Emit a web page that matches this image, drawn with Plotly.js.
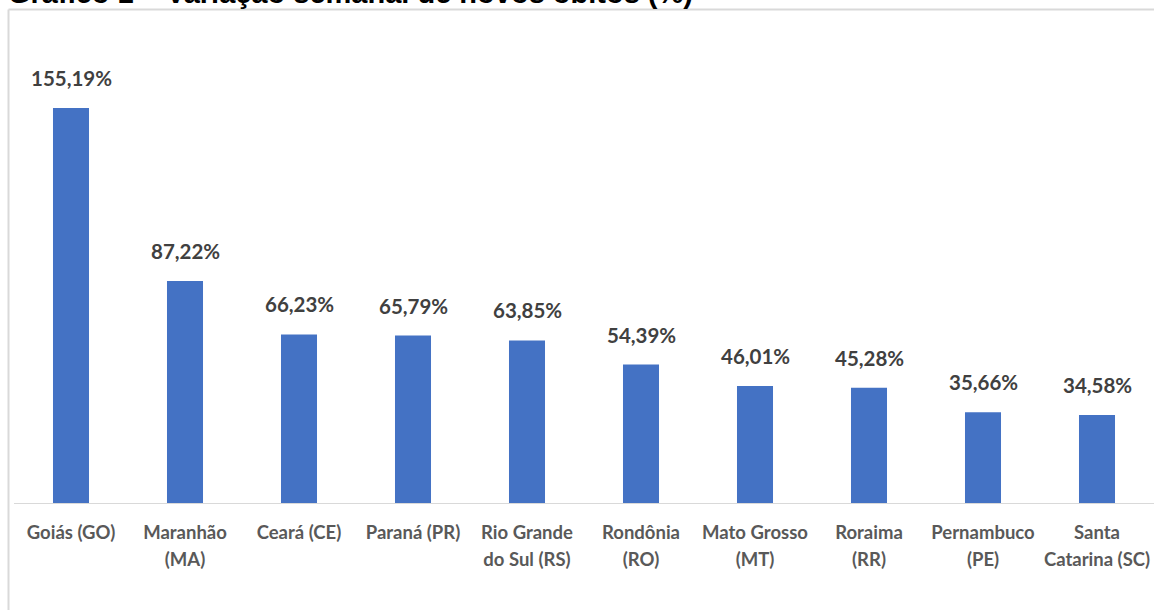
<!DOCTYPE html>
<html>
<head>
<meta charset="utf-8">
<script src="https://cdn.plot.ly/plotly-3.0.1.min.js"></script>
<style>html,body{margin:0;padding:0;background:#fff;}#chart{width:1154px;height:610px;}</style>
</head>
<body>
<div id="chart"></div>
<script>
const categories = ["Goiás (GO)", "Maranhão<br>(MA)", "Ceará (CE)", "Paraná (PR)", "Rio Grande<br>do Sul (RS)", "Rondônia<br>(RO)", "Mato Grosso<br>(MT)", "Roraima<br>(RR)", "Pernambuco<br>(PE)", "Santa<br>Catarina (SC)"];
const values = [155.19, 87.22, 66.23, 65.79, 63.85, 54.39, 46.01, 45.28, 35.66, 34.58];
const titleText = "Gráfico 1 – Variação semanal de novos óbitos (%)";

const fmt = v => v.toFixed(2).replace(".", ",") + "%";

const W = 1154, H = 610, L = 14, R = 0, T = 40, B = 107;
const pw = W - L - R, ph = H - T - B;
const px2x = p => (p - L) / pw;
const py2y = p => (H - B - p) / ph;

const trace = {
  type: "bar",
  x: categories,
  y: values,
  marker: {color: "#4472C4"},
  hoverinfo: "none"
};

const annotations = values.map((v, i) => ({
  x: categories[i], y: v, xref: "x", yref: "y",
  text: fmt(v), showarrow: false, yanchor: "middle", yshift: 30,
  font: {family: "Lato, 'Open Sans', sans-serif", size: 20.5, color: "#404040", weight: "bold"}
}));
annotations.push({
  x: px2x(6), y: py2y(11), xref: "paper", yref: "paper",
  xanchor: "left", yanchor: "bottom", showarrow: false,
  text: "<b>" + titleText + "</b>",
  font: {family: "'Liberation Sans', Arial, sans-serif", size: 29, color: "#000000"}
});

const shapes = [
  {type: "line", xref: "paper", yref: "paper", x0: px2x(8.5), x1: px2x(8.5), y0: py2y(9.5), y1: py2y(615), line: {color: "#d9d9d9", width: 2}},
  {type: "line", xref: "paper", yref: "paper", x0: px2x(8.5), x1: px2x(1160), y0: py2y(9.5), y1: py2y(9.5), line: {color: "#d9d9d9", width: 2}}
];

const layout = {
  width: W, height: H,
  margin: {l: L, r: R, t: T, b: B},
  paper_bgcolor: "#ffffff", plot_bgcolor: "#ffffff",
  showlegend: false,
  bargap: 0.684,
  xaxis: {
    type: "category",
    showline: true, linecolor: "#d9d9d9", linewidth: 1,
    showgrid: false, ticks: "",
    tickvals: categories,
    ticktext: categories.map(c => '<span style="font-size:18.5px">' + c + '</span>'),
    ticklabelstandoff: 10,
    tickfont: {family: "Lato, 'Open Sans', sans-serif", size: 20.8, color: "#595959", weight: "bold"},
    fixedrange: true
  },
  yaxis: {
    range: [0, ph / (395 / 155.19)],
    showgrid: false, zeroline: false, showticklabels: false, showline: false,
    fixedrange: true
  },
  annotations: annotations,
  shapes: shapes
};

Plotly.newPlot("chart", [trace], layout, {displayModeBar: false, staticPlot: true});
</script>
</body>
</html>
